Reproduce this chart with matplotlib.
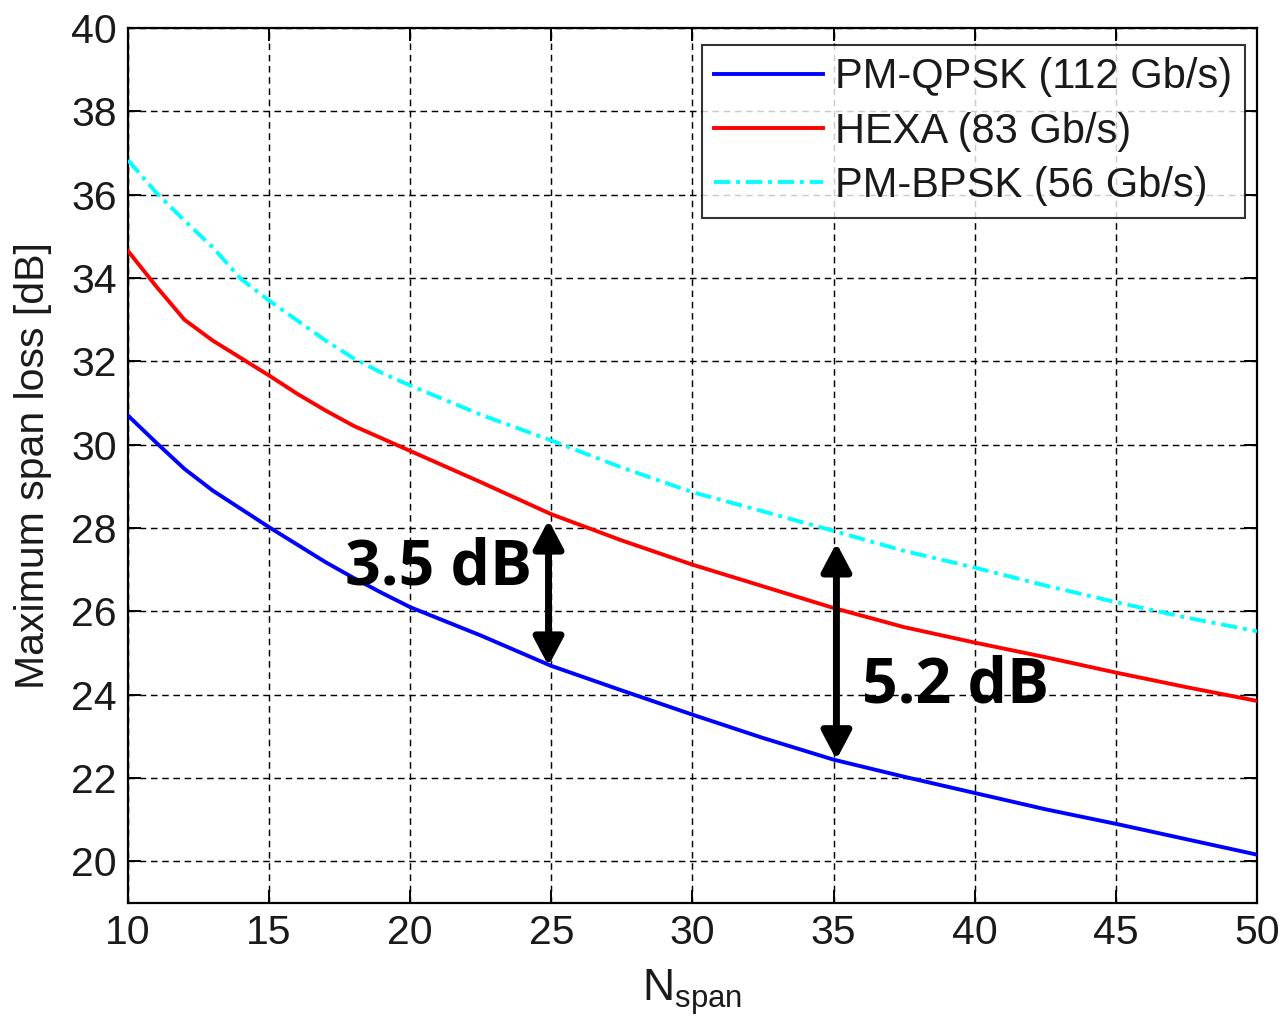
import matplotlib
matplotlib.use("Agg")
import matplotlib.pyplot as plt
from matplotlib.patches import FancyArrowPatch

# Number of spans
n_span = [10, 11, 12, 13, 14, 15, 16, 17, 18, 19, 20,
          22.5, 25, 27.5, 30, 32.5, 35, 37.5, 40, 42.5, 45, 47.5, 50]

# Maximum span loss [dB] per modulation format
pm_qpsk = [30.70, 30.05, 29.42, 28.90, 28.46, 28.02, 27.60, 27.18, 26.80, 26.44, 26.10,
           25.42, 24.69, 24.10, 23.52, 22.96, 22.44, 22.03, 21.64, 21.25, 20.90, 20.53, 20.16]
hexa = [34.65, 33.80, 33.00, 32.50, 32.08, 31.66, 31.22, 30.82, 30.45, 30.15, 29.85,
        29.10, 28.33, 27.70, 27.12, 26.60, 26.08, 25.62, 25.25, 24.90, 24.53, 24.18, 23.85]
pm_bpsk = [36.83, 36.05, 35.38, 34.74, 33.98, 33.46, 32.98, 32.50, 32.07, 31.72, 31.42,
           30.72, 30.10, 29.45, 28.86, 28.40, 27.93, 27.45, 27.05, 26.62, 26.22, 25.85, 25.52]

series_labels = ["PM-QPSK (112 Gb/s)", "HEXA (83 Gb/s)", "PM-BPSK (56 Gb/s)"]

# Gap annotations: position, lower curve value, gap size
gap_x = [24.9, 35.1]
gap_base = [24.69, 22.44]
gap_db = [3.5, 5.2]
gap_text = ["3.5 dB", "5.2 dB"]
gap_text_pos = [(17.7, 27.05), (36.0, 24.2)]

x_ticks = [10, 15, 20, 25, 30, 35, 40, 45, 50]
y_ticks = [20, 22, 24, 26, 28, 30, 32, 34, 36, 38, 40]

plt.rcParams["font.family"] = ["Liberation Sans", "DejaVu Sans"]
plt.rcParams["mathtext.fontset"] = "custom"
plt.rcParams["mathtext.rm"] = "Liberation Sans"

fig = plt.figure(figsize=(12.82, 10.26), dpi=100)
ax = fig.add_axes([0.0998, 0.1199, 0.8807, 0.8528])

lw = 2.8
ax.plot(n_span, pm_qpsk, color="#0000ff", lw=lw, label=series_labels[0], zorder=3)
ax.plot(n_span, hexa, color="#ff0000", lw=lw, label=series_labels[1], zorder=3)
ax.plot(n_span, pm_bpsk, color="#00ffff", lw=lw, label=series_labels[2], zorder=3,
        linestyle=(0, (4.2, 1.5, 1.0, 1.5)))

ax.set_xlim(10, 50)
ax.set_ylim(19, 40)
ax.set_xticks(x_ticks)
ax.set_yticks(y_ticks)

tick_color = "#1a1a1a"
ax.tick_params(axis="both", which="both", direction="in", length=9.5, width=1.4,
               top=True, right=True, labelsize=29.5, labelcolor=tick_color, pad=8)
for sp in ax.spines.values():
    sp.set_linewidth(1.6)
    sp.set_color("black")

ax.grid(True, color="black", linestyle=(0, (4.5, 3.2)), linewidth=1.05)
ax.set_axisbelow(True)

ax.set_ylabel("Maximum span loss [dB]", fontsize=29.5, color=tick_color, labelpad=14)
ax.set_xlabel(r"$\mathregular{N_{span}}$", fontsize=32, color=tick_color, labelpad=11)

for xg, base, gap in zip(gap_x, gap_base, gap_db):
    arr = FancyArrowPatch((xg, base), (xg, base + gap),
                          arrowstyle="<|-|>,head_length=0.85,head_width=0.45",
                          mutation_scale=20, lw=5, color="black",
                          shrinkA=0, shrinkB=0, zorder=5)
    ax.add_patch(arr)

for txt, (tx, ty) in zip(gap_text, gap_text_pos):
    ax.text(tx, ty, txt, fontsize=45, fontweight="bold", family=["Open Sans", "DejaVu Sans"],
            ha="left", va="center", color="black", zorder=6)

leg = ax.legend(loc="upper right", bbox_to_anchor=(0.9893, 0.9806), borderaxespad=0,
                fontsize=30, frameon=True, fancybox=False, handlelength=2.6,
                handletextpad=0.3, labelspacing=0.34, borderpad=0.3)
leg.get_frame().set_edgecolor("black")
leg.get_frame().set_linewidth(1.5)
for t in leg.get_texts():
    t.set_color(tick_color)

fig.savefig("out.png", dpi=100, facecolor="white")
